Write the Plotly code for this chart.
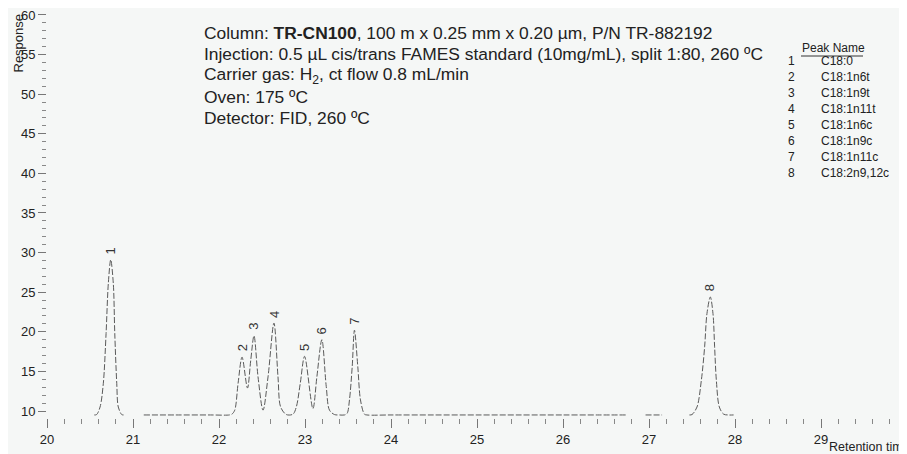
import plotly.graph_objects as go

# ---- data ----
# chromatogram trace (retention time, response); None marks gaps in the trace
trace_rt = [20.55, 20.577, 20.617, 20.655, 20.687, 20.713, 20.741, 20.771, 20.788, 20.811, 20.829, 20.869, 20.89,
            None,
            21.125, 21.5, 21.9, 22.12, 22.15, 22.183, 22.222, 22.268, 22.331, 22.369, 22.407, 22.454, 22.512, 22.570,
            22.639, 22.686, 22.717, 22.783, 22.86, 22.899, 22.945, 22.995, 23.092, 23.138, 23.196,
            23.247, 23.285, 23.343, 23.40, 23.459, 23.49, 23.517, 23.549, 23.575, 23.614, 23.645, 23.691, 23.72,
            24.0, 24.5, 25.0, 25.5, 26.0, 26.4, 26.73,
            None,
            26.96, 27.152,
            None,
            27.47, 27.50, 27.558, 27.609, 27.647, 27.674, 27.713, 27.744, 27.763, 27.783, 27.818, 27.868, 27.92, 27.984]
trace_resp = [9.5, 9.55, 10.5, 13.5, 19.8, 26.1, 29.1, 26.1, 19.8, 13.5, 10.5, 9.55, 9.5,
              None,
              9.5, 9.5, 9.5, 9.5, 9.6, 10.1, 13.5, 16.8, 12.9, 16.4, 19.5, 14.3, 10.1, 14.3,
              21.1, 14.3, 10.5, 9.55, 9.6, 10.5, 13.5, 16.9, 10.3, 14.3, 19.0,
              13.1, 10.1, 9.55, 9.5, 9.5, 9.7, 11.4, 15.6, 20.2, 15.6, 11.4, 9.6, 9.5,
              9.5, 9.5, 9.5, 9.5, 9.5, 9.5, 9.5,
              None,
              9.5, 9.5,
              None,
              9.5, 9.55, 10.5, 13.9, 18.1, 22.3, 24.4, 22.3, 18.1, 13.9, 10.5, 9.6, 9.5, 9.5]

peak_ids = ["1", "2", "3", "4", "5", "6", "7", "8"]
peak_rt = [20.741, 22.268, 22.407, 22.639, 22.995, 23.196, 23.575, 27.713]
peak_top = [29.1, 16.8, 19.5, 21.1, 16.9, 19.0, 20.2, 24.4]
peak_names = ["C18:0", "C18:1n6t", "C18:1n9t", "C18:1n11t", "C18:1n6c",
              "C18:1n9c", "C18:1n11c", "C18:2n9,12c"]

x_ticks = [20, 21, 22, 23, 24, 25, 26, 27, 28, 29, 30]
y_ticks = [10, 15, 20, 25, 30, 35, 40, 45, 50, 55, 60]

info_lines = [
    "Column: <b>TR-CN100</b>, 100 m x 0.25 mm x 0.20 µm, P/N TR-882192",
    "Injection: 0.5 µL cis/trans FAMES standard (10mg/mL), split 1:80, 260 ºC",
    "Carrier gas: H<sub>2</sub>, ct flow 0.8 mL/min",
    "Oven: 175 ºC",
    "Detector: FID, 260 ºC",
]

# ---- layout geometry (page offset of 8px from the body margin) ----
OFF = 8
W, H = 907 - OFF, 454 - OFF
ML, MR, MT, MB = 47 - OFF, 0, 10 - OFF, 454 - 418
PW, PH = W - ML - MR, H - MT - MB

def px(x):
    return (x - OFF - ML) / PW

def py(y):
    return (H - MB - (y - OFF)) / PH

BG = "#f5f7f6"
FONT = "Liberation Sans, Arial, sans-serif"

fig = go.Figure()
fig.add_trace(go.Scatter(
    x=trace_rt, y=trace_resp, mode="lines", connectgaps=False,
    line=dict(color="#5a5a5a", width=1, dash="6px,2px", shape="spline", smoothing=0.9),
    hoverinfo="skip", showlegend=False,
))

ann = []
for pid, rt, top in zip(peak_ids, peak_rt, peak_top):
    ann.append(dict(x=rt, y=top, xref="x", yref="y", text=pid, showarrow=False,
                    textangle=-90, xanchor="center", yanchor="middle", yshift=9,
                    font=dict(family=FONT, size=13, color="#333333")))

for i, line in enumerate(info_lines):
    ann.append(dict(x=px(202), y=py(33 + i * 21.3), xref="paper", yref="paper", text=line,
                    showarrow=False, xanchor="left", yanchor="middle",
                    font=dict(family=FONT, size=17.4, color="#222222")))

LEG = dict(family=FONT, size=12, color="#222222")
ann.append(dict(x=px(800), y=py(48), xref="paper", yref="paper", text="Peak Name",
                showarrow=False, xanchor="left", yanchor="middle", font=LEG))
for i, (pid, name) in enumerate(zip(peak_ids, peak_names)):
    yy = py(61 + i * 16.0)
    ann.append(dict(x=px(786), y=yy, xref="paper", yref="paper", text=pid, showarrow=False,
                    xanchor="left", yanchor="middle", font=LEG))
    ann.append(dict(x=px(819), y=yy, xref="paper", yref="paper", text=name, showarrow=False,
                    xanchor="left", yanchor="middle", font=LEG))
    ann.append(dict(x=px(901), y=yy, xref="paper", yref="paper", text="(", showarrow=False,
                    xanchor="left", yanchor="middle", font=LEG))

ann.append(dict(x=px(17.5), y=py(43), xref="paper", yref="paper", text="Response", showarrow=False,
                textangle=-90, xanchor="center", yanchor="middle",
                font=dict(family=FONT, size=13, color="#222222")))
ann.append(dict(x=px(827), y=py(447), xref="paper", yref="paper", text="Retention time",
                showarrow=False, xanchor="left", yanchor="middle",
                font=dict(family=FONT, size=12.5, color="#222222")))

shapes = [dict(type="line", xref="paper", yref="paper", x0=px(801), x1=px(863),
               y0=py(56), y1=py(56), line=dict(color="#333333", width=1))]

fig.update_layout(
    width=W, height=H, margin=dict(l=ML, r=MR, t=MT, b=MB, pad=0),
    paper_bgcolor=BG, plot_bgcolor=BG, annotations=ann, shapes=shapes,
    showlegend=False,
)
fig.update_xaxes(range=[20, 30], tickvals=x_ticks, ticktext=[str(v) for v in x_ticks],
                 ticks="outside", ticklen=9, tickwidth=1, tickcolor="#777777",
                 minor=dict(dtick=0.2, tick0=20, ticks="outside", ticklen=5, tickcolor="#888888", tickwidth=1, showgrid=False),
                 showline=False, showgrid=False, zeroline=False,
                 tickfont=dict(family=FONT, size=13, color="#222222"))
fig.update_yaxes(range=[9.116, 60.63], tickvals=y_ticks, ticktext=[str(v) for v in y_ticks],
                 ticks="outside", ticklen=8, tickwidth=1, tickcolor="#777777",
                 minor=dict(dtick=1, tick0=10, ticks="outside", ticklen=4, tickcolor="#888888", tickwidth=1, showgrid=False),
                 showline=False, showgrid=False, zeroline=False, ticklabeloverflow="allow",
                 tickfont=dict(family=FONT, size=13, color="#222222"))

fig.write_html("out.html")
